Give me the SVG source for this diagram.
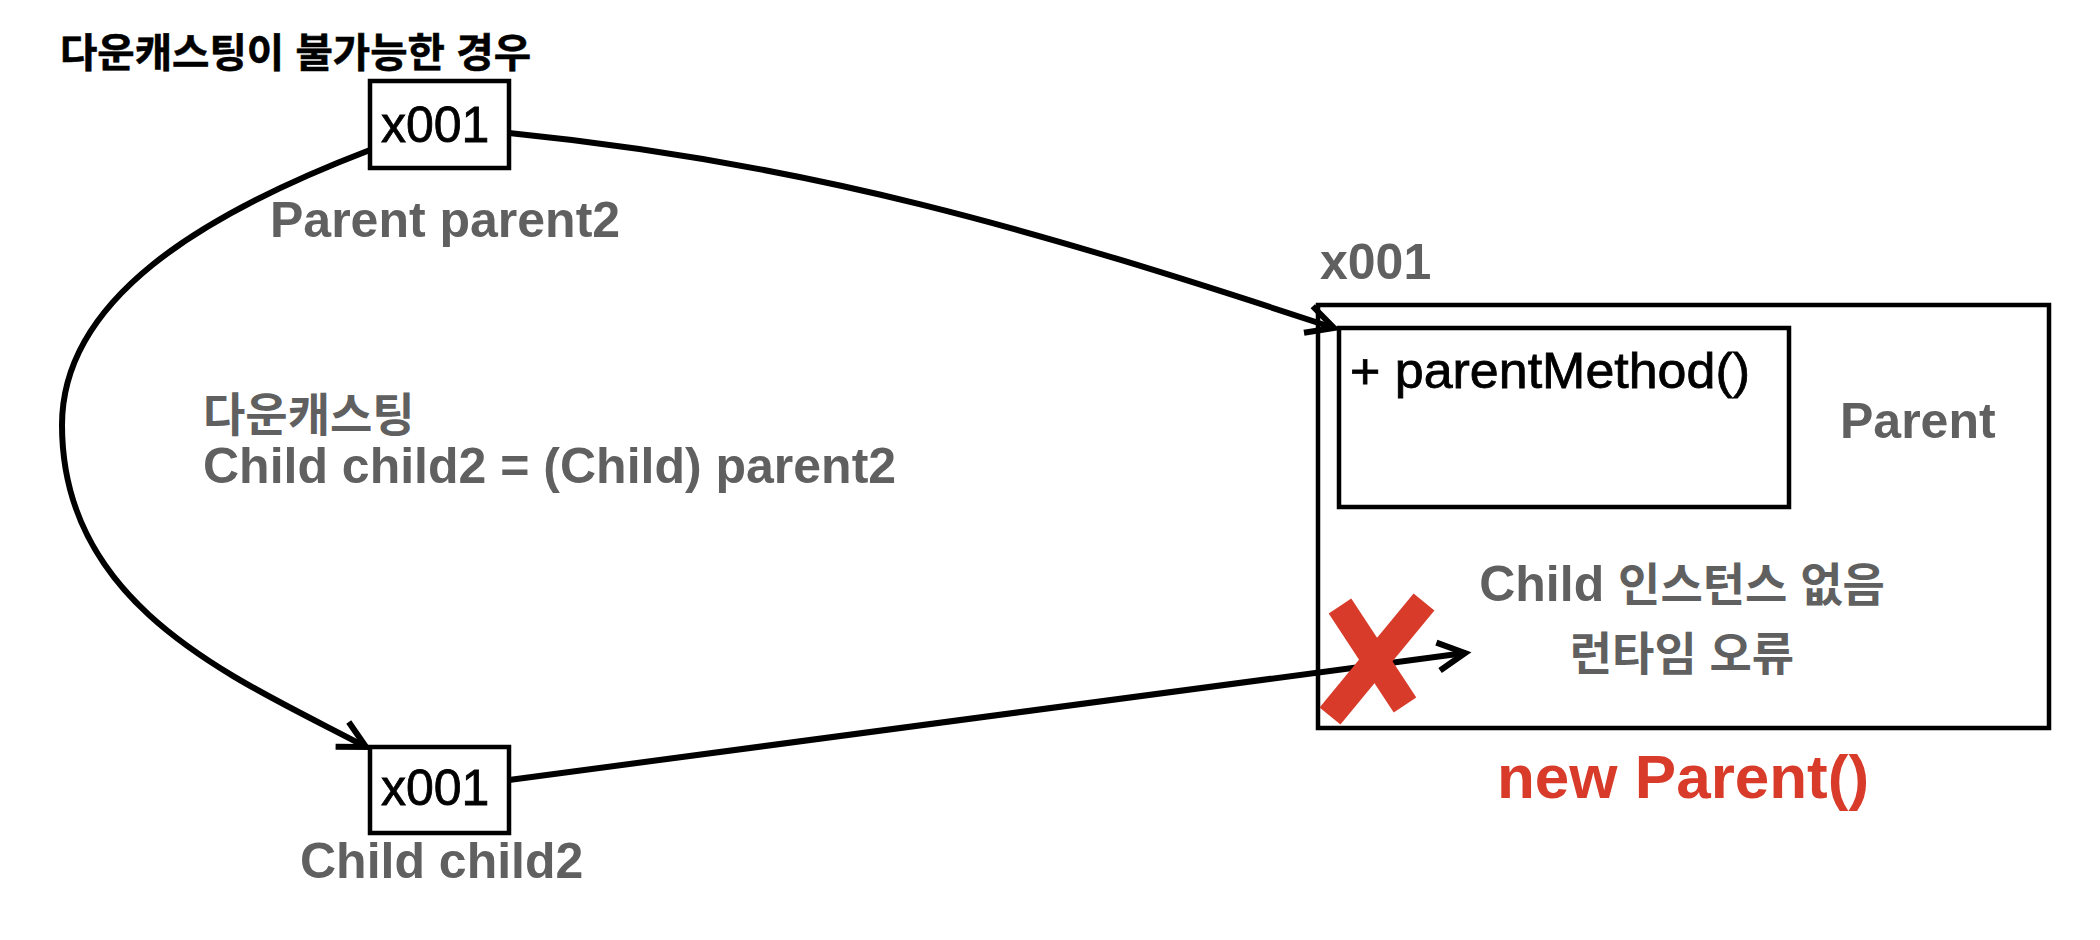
<svg xmlns="http://www.w3.org/2000/svg" width="2100" height="940" viewBox="0 0 2100 940">
  <defs>
    <style>
      .box { fill: #ffffff; stroke: #000000; stroke-width: 4.5; }
      .conn { fill: none; stroke: #000000; stroke-width: 6; }
      .txt { font-family: "Liberation Sans", "Noto Sans CJK KR", sans-serif; }
      .val { font-size: 50px; fill: #000000; stroke: #000000; stroke-width: 0.8; }
      .lbl { font-size: 50px; font-weight: bold; fill: #606060; }
      .ko { font-size: 46px; }
      .red { font-size: 62px; font-weight: bold; fill: #D83B2A; }
      .xmark { stroke: #D83B2A; stroke-width: 27; stroke-linecap: butt; fill: none; }
    </style>
    <marker id="arrow" markerUnits="userSpaceOnUse" viewBox="-32 -20 40 40" refX="0" refY="0" markerWidth="40" markerHeight="40" orient="auto" overflow="visible">
      <path d="M-27,-14 L0,0 L-27,14" fill="none" stroke="#000000" stroke-width="6" stroke-linejoin="miter"/>
    </marker>
  </defs>
  <rect width="2100" height="940" fill="#ffffff"/>

  <g id="title">
    <text class="txt" x="60" y="67" font-size="40" font-weight="bold" fill="#000000" stroke="#000000" stroke-width="0.6" textLength="471" lengthAdjust="spacingAndGlyphs">다운캐스팅이 불가능한 경우</text>
  </g>

  <g id="parent-object">
    <text class="txt lbl" x="1320" y="279" font-size="48">x001</text>
    <rect class="box" x="1318" y="305" width="731" height="423"/>
    <rect class="box" x="1339" y="328" width="450" height="179"/>
    <text class="txt val" x="1350" y="388" textLength="400" lengthAdjust="spacingAndGlyphs">+ parentMethod()</text>
    <text class="txt lbl" x="1840" y="438">Parent</text>
    <text class="txt lbl" x="1682" y="601" text-anchor="middle">Child <tspan class="ko">인스턴스 없음</tspan></text>
    <text class="txt lbl ko" x="1682" y="670" text-anchor="middle">런타임 오류</text>
    <text class="txt red" x="1497" y="798">new Parent()</text>
  </g>

  <g id="parent2-ref">
    <rect class="box" x="370" y="81" width="139" height="87"/>
    <text class="txt val" x="381" y="142">x001</text>
    <text class="txt lbl" x="270" y="237">Parent parent2</text>
  </g>

  <g id="child2-ref">
    <rect class="box" x="370" y="747" width="139" height="86"/>
    <text class="txt val" x="381" y="805">x001</text>
    <text class="txt lbl" x="300" y="878">Child child2</text>
  </g>

  <g id="downcast-label">
    <text class="txt lbl ko" x="203" y="431">다운캐스팅</text>
    <text class="txt lbl" x="203" y="483">Child child2 = (Child) parent2</text>
  </g>

  <g id="connectors">
    <path class="conn" d="M509,133 C809,163 1034,229 1334,328" marker-end="url(#arrow)"/>
    <path class="conn" d="M370,150 C200,215 62,300 62,425 C62,610 240,680 366,747" marker-end="url(#arrow)"/>
    <path class="conn" d="M509,780 L1465,653" marker-end="url(#arrow)"/>
  </g>

  <g id="error-mark">
    <line class="xmark" x1="1340" y1="606" x2="1405" y2="705"/>
    <line class="xmark" x1="1424" y1="602" x2="1330" y2="716"/>
  </g>
</svg>
